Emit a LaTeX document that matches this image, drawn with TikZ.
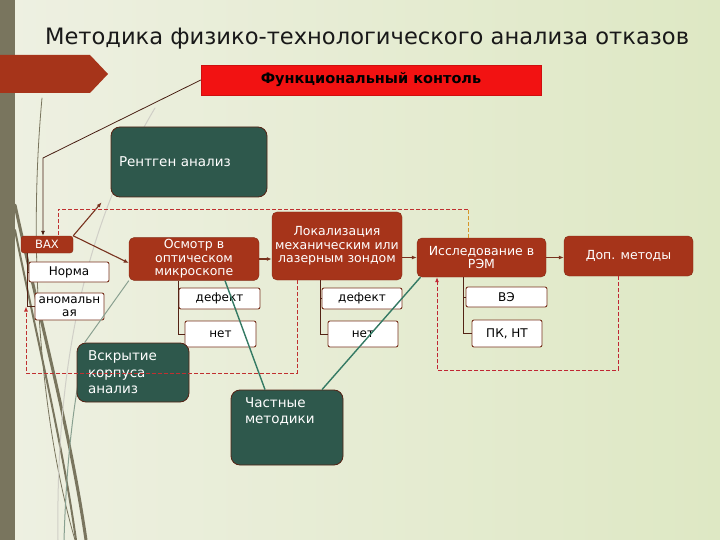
\documentclass[tikz,border=0pt]{standalone}
\usepackage{fontspec}
\setmainfont{DejaVu Sans}
\usetikzlibrary{arrows.meta}
\usetikzlibrary{calc}
\definecolor{boxred}{RGB}{166,52,26}
\definecolor{funcred}{RGB}{242,18,18}
\definecolor{darkteal}{RGB}{46,88,76}
\definecolor{linkteal}{RGB}{52,122,100}
\definecolor{edgebrown}{RGB}{120,50,30}
\definecolor{dashred}{RGB}{192,48,48}
\definecolor{dashorange}{RGB}{214,150,40}
\definecolor{barolive}{RGB}{121,117,94}
\definecolor{bgleft}{RGB}{238,240,226}
\definecolor{bgmid}{RGB}{245,246,236}
\definecolor{bgright}{RGB}{222,232,196}
\tikzset{>={Latex[length=5pt,width=4pt]}}
\tikzset{
    redbox/.style={fill=boxred, draw=boxred!80!black, rounded corners=5pt, text=white,
        align=center, font=\fontsize{12.5}{13.5}\selectfont, inner sep=2pt},
    tealbox/.style={fill=darkteal, draw=edgebrown!70!black, line width=0.8pt,
        rounded corners=9pt, text=white, align=left, font=\fontsize{13.5}{16.5}\selectfont},
    subbox/.style={fill=white, draw=edgebrown, line width=0.9pt, rounded corners=2pt,
        align=center, font=\fontsize{12}{12.5}\selectfont, inner sep=1pt},
    link/.style={draw=edgebrown, line width=1.1pt},
    tree/.style={draw=edgebrown!70!black, line width=0.8pt},
    dashloop/.style={draw=dashred, line width=0.9pt, dash pattern=on 4pt off 2pt},
    tealline/.style={draw=linkteal, line width=1.4pt},
    swoosh/.style={draw=barolive, line cap=round},
}

\begin{document}
\begin{tikzpicture}[x=1pt, y=-1pt] % failure analysis flow
	\useasboundingbox (0,0) rectangle (720,540);
	\shade[left color=bgleft, middle color=bgmid, right color=bgright] (0,0) rectangle (720,540);
	\fill[barolive] (0,0) rectangle (15,540);
	% background swooshes
	\draw[swoosh, line width=0.8pt] (42,98) .. controls (28,250) and (40,420) .. (75,540);
	\draw[swoosh, line width=3pt] (15,205) .. controls (40,320) and (70,430) .. (86,540);
	\draw[swoosh, line width=2pt] (15,230) .. controls (35,330) and (62,440) .. (76,540);
	\draw[swoosh, draw=barolive!35, line width=1pt] (155,108) .. controls (100,200) and (55,330) .. (58,540);
	\draw[swoosh, draw=linkteal!50!barolive!70, line width=1pt] (85,345) .. controls (70,420) and (66,480) .. (64,540);
	\fill[boxred] (0,55) -- (90,55) -- (108,74) -- (90,93) -- (0,93) -- cycle;
	\node[anchor=base, font=\fontsize{22.6}{26}\selectfont, text=black!90] (title) at (367,45)
		{Методика физико-технологического анализа отказов};
	\node[fill=funcred, draw=funcred!85!black, minimum width=340pt, minimum height=30pt,
		font=\fontsize{14.5}{16}\selectfont\bfseries] (func) at (371,80) {Функциональный контоль};
	\node[tealbox, minimum width=156pt, minimum height=70pt, text width=140pt, inner xsep=8pt]
		(rent) at (189,162) {Рентген анализ};
	\node[redbox, minimum width=52pt, minimum height=17pt, rounded corners=3pt,
		font=\fontsize{11.5}{12}\selectfont] (vax) at (47,244.5) {ВАХ};
	\node[redbox, minimum width=130pt, minimum height=40pt] (osm) at (194,259)
		{Осмотр в\\оптическом\\микроскопе};
	\node[redbox, minimum width=130pt, minimum height=68pt] (lok) at (337,246)
		{Локализация\\механическим или\\лазерным зондом};
	\node[redbox, minimum width=129pt, minimum height=39pt] (issl) at (481.5,257.5)
		{Исследование в\\РЭМ};
	\node[redbox, minimum width=129pt, minimum height=40pt] (dop) at (628.5,256) {Доп. методы};
	\foreach \nm/\x/\y/\w/\h/\txt in {norma/69/272/80/20/Норма, anom/69.5/306.5/69/27/аномальн\\ая,
		osm1/219.5/298.5/81/21/дефект, osm2/220.5/334/71/26/нет,
		lok1/362/298.5/80/21/дефект, lok2/363/334/70/26/нет,
		issl1/506.5/297/81/20/ВЭ, issl2/507/333.5/70/27/{ПК, НТ}}
	\node[subbox, minimum width=\w pt, minimum height=\h pt] (\nm) at (\x,\y) {\txt};
	\node[tealbox, minimum width=112pt, minimum height=59pt, text width=90pt, inner xsep=11pt]
		(vskr) at (133,372.5) {Вскрытие\\корпуса\\анализ};
	\node[tealbox, minimum width=112pt, minimum height=75pt, inner xsep=14pt, inner ysep=6pt]
		(chast) at (287,427.5) {\parbox[t][60pt][t]{84pt}{\raggedright Частные\\методики}};
	% connectors
	\coordinate (bend) at (43,158);
	\draw[draw=edgebrown!60!black, line width=0.8pt, ->] (func.west) -- (bend) -- (bend |- vax.north);
	\draw[link, ->] (vax.north east) -- ([shift={(-9pt,-5pt)}]rent.south west);
	\draw[link, ->] (vax.north east) -- ([yshift=-4pt]osm.west);
	\draw[link, ->] (osm.east) -- (osm.east -| lok.west);
	\draw[link, ->] (lok.east |- issl.west) -- (issl.west);
	\draw[link, ->] (issl.east) -- (issl.east -| dop.west);
	\draw[tree] ([xshift=-20pt]vax.south) |- (norma.west) ([xshift=-20pt]vax.south) |- (anom.west);
	\foreach \q/\dx in {osm/-16, lok/-17, issl/-18.5}
	\draw[tree] ([xshift=\dx pt]\q.south) |- (\q1.west) ([xshift=\dx pt]\q.south) |- (\q2.west);
	% dashed loops
	\coordinate (c1) at (468,209);
	\coordinate (c2) at (26,373);
	\coordinate (c3) at (437,370);
	\draw[dashloop, draw=dashorange] (issl.north -| c1) -- (c1);
	\draw[dashloop] (c1) -| ([xshift=11pt]vax.north);
	\draw[dashloop, ->] ([xshift=-40pt]lok.south) |- (c2) -- (anom.west -| c2);
	\draw[dashloop, draw=dashred!80!purple, ->] ([xshift=-10pt]dop.south) |- (c3) -- (issl.south -| c3);
	% teal links
	\draw[tealline, draw=linkteal!50!barolive!70, line width=1pt] (osm.south west) -- ([xshift=8pt]vskr.north west);
	\draw[tealline] ([xshift=31pt]osm.south) -- ([xshift=-22pt]chast.north);
	\draw[tealline] ([xshift=-61pt]issl.south) -- ([xshift=35pt]chast.north);
\end{tikzpicture}
\end{document}
